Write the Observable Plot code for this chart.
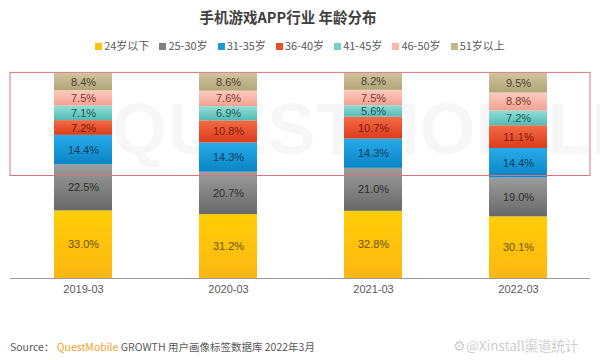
<!DOCTYPE html>
<html>
<head>
<meta charset="utf-8">
<script src="https://cdn.jsdelivr.net/npm/d3@7"></script>
<script src="https://cdn.jsdelivr.net/npm/@observablehq/plot@0.6"></script>
<style>
  body { margin: 0; background: #fff; }
  #wrap { position: relative; width: 600px; height: 360px; overflow: hidden; font-family: "Noto Sans CJK SC", "Noto Sans", sans-serif; }
  #title { position: absolute; top: 6px; left: 0; width: 576px; text-align: center; font-size: 14.5px; font-weight: bold; color: #404040; }
  #legend { position: absolute; top: 37px; left: 0; width: 600px; display: flex; justify-content: center; gap: 10px; font-size: 11px; color: #595959; }
  #legend span.sw { display: inline-block; width: 7px; height: 7px; margin-right: 2px; vertical-align: middle; position: relative; top: -1px; }
  #chart { position: absolute; top: 58px; left: 0; }
  #source { position: absolute; top: 339px; left: 10px; font-size: 10.5px; color: #595959; }
  #source .qm { color: #F3A12A; }
  #wm { position: absolute; top: 335px; left: 453px; font-size: 13.5px; color: #cfcfcf; }
</style>
</head>
<body>
<div id="wrap">
  <div id="title">手机游戏APP行业 年龄分布</div>
  <div id="legend"></div>
  <div id="chart"></div>
  <div id="source">Source：&nbsp;<span class="qm">QuestMobile</span> GROWTH 用户画像标签数据库 2022年3月</div>
  <div id="wm">⚙@Xinstall渠道统计</div>
</div>
<script>
const periods = ["2019-03", "2020-03", "2021-03", "2022-03"];
const ages = ["24岁以下", "25-30岁", "31-35岁", "36-40岁", "41-45岁", "46-50岁", "51岁以上"];
const v24 = [33.0, 31.2, 32.8, 30.1];
const v25_30 = [22.5, 20.7, 21.0, 19.0];
const v31_35 = [14.4, 14.3, 14.3, 14.4];
const v36_40 = [7.2, 10.8, 10.7, 11.1];
const v41_45 = [7.1, 6.9, 5.6, 7.2];
const v46_50 = [7.5, 7.6, 7.5, 8.8];
const v51 = [8.4, 8.6, 8.2, 9.5];
const series = [v24, v25_30, v31_35, v36_40, v41_45, v46_50, v51];

const swatch = ["#FFC20E", "#7f7f7f", "#1A9AD9", "#E8502C", "#74CFC8", "#F8B9AA", "#C2B68C"];
const gradTop = ["#FFCD05", "#9c9c9c", "#27ABEA", "#F46C47", "#93DED8", "#FDCCBF", "#D0C4A0"];
const gradBot = ["#FDB714", "#686868", "#0A84C4", "#DC3B1A", "#52BBB4", "#F2A190", "#B1A578"];
const labelColor = ["#6b5300", "#2e2e2e", "#153b5c", "#7a1e0a", "#1f5552", "#7a3a30", "#4a4330"];

const data = [];
ages.forEach((a, i) => periods.forEach((p, j) => data.push({period: p, age: a, value: series[i][j], idx: i})));

// legend
const lg = document.getElementById("legend");
ages.forEach((a, i) => {
  const s = document.createElement("div");
  s.innerHTML = `<span class="sw" style="background:${swatch[i]}"></span>${a}`;
  lg.appendChild(s);
});

const chart = Plot.plot({
  width: 600,
  height: 245,
  marginLeft: 10,
  marginRight: 10,
  marginTop: 15,
  marginBottom: 25,
  x: {domain: periods, paddingInner: 0.6, paddingOuter: 0.3, label: null, tickSize: 0, tickPadding: 7},
  y: {domain: [0, 1], axis: null},
  color: {domain: ages, range: ages.map((a, i) => `url(#g${i})`)},
  style: {fontFamily: "'Liberation Sans', Arial, sans-serif", fontSize: "11px", color: "#595959", overflow: "visible"},
  marks: [
    Plot.text(["QUESTMOBILE"], {frameAnchor: "middle", dx: 75, dy: -45, fontSize: 72, fill: "#000", fillOpacity: 0.03, fontWeight: "bold", fontFamily: "'Liberation Sans', sans-serif"}),
    Plot.barY(data, {x: "period", y: "value", fill: "age", order: ages, offset: "normalize"}),
    Plot.text(data, Plot.stackY({x: "period", y: "value", z: "age", order: ages, offset: "normalize", text: d => d.value.toFixed(1) + "%", fill: d => labelColor[d.idx], fontSize: 11})),
    Plot.rect([0], {y1: 0.5, y2: 1.003, stroke: "#D9747A", strokeWidth: 1, fill: "none"}),
    Plot.ruleY([0], {stroke: "#9a9a9a", strokeWidth: 1}),
    Plot.axisX({tickSize: 0, tickPadding: 7, fill: "#595959", fontSize: 11, label: null})
  ]
});

// gradients
const ns = "http://www.w3.org/2000/svg";
const defs = document.createElementNS(ns, "defs");
ages.forEach((a, i) => {
  const g = document.createElementNS(ns, "linearGradient");
  g.setAttribute("id", `g${i}`);
  g.setAttribute("x1", "0"); g.setAttribute("y1", "0"); g.setAttribute("x2", "0"); g.setAttribute("y2", "1");
  [[0, gradTop[i]], [1, gradBot[i]]].forEach(([o, c]) => {
    const st = document.createElementNS(ns, "stop");
    st.setAttribute("offset", o); st.setAttribute("stop-color", c);
    g.appendChild(st);
  });
  defs.appendChild(g);
});
chart.insertBefore(defs, chart.firstChild);
document.getElementById("chart").appendChild(chart);
</script>
</body>
</html>
